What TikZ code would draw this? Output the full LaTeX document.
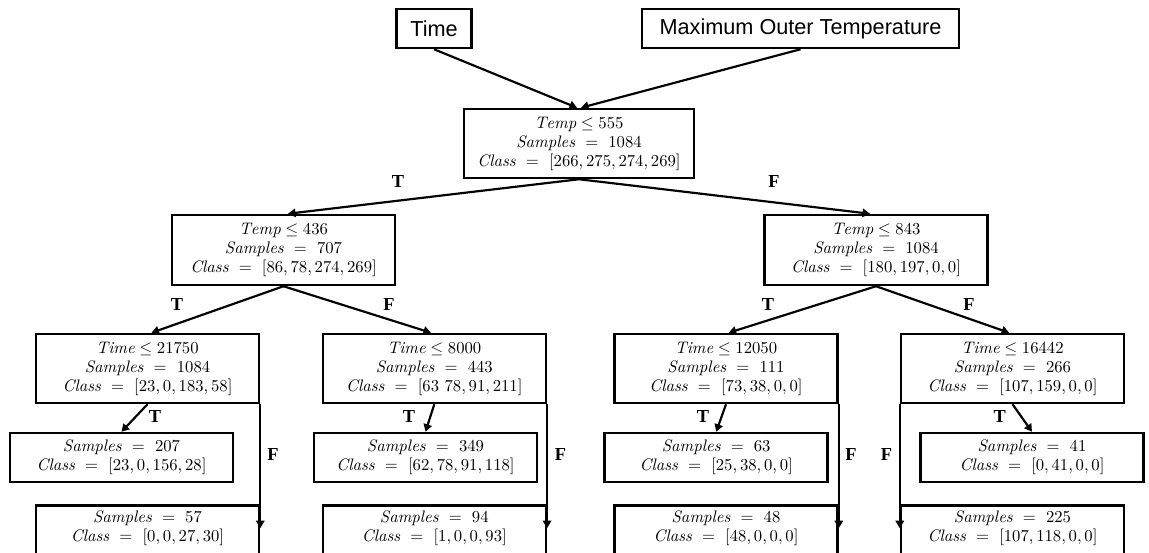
\documentclass[tikz,border=0pt]{standalone}
\usepackage{amsmath,amssymb}
\usepackage{fontspec}
\usepackage{tikz}
\usetikzlibrary{positioning,arrows.meta}
\newfontfamily\arialfont{Liberation Sans}
\newfontfamily\timesfont{Liberation Serif}
\newcommand{\thr}[2]{$\mathit{#1}\leq #2$}
\newcommand{\smp}[1]{$\mathit{Samples}\ =\ #1$}
\newcommand{\cls}[1]{$\mathit{Class}\ =\ [#1]$}
\newcommand{\cutdepth}{\rule[-30pt]{0pt}{1pt}}

\begin{document}
\begin{tikzpicture}[x=0.6pt,y=-0.6pt,
   box/.style={draw,line width=1.5pt,minimum width=133.8pt,minimum height=41.4pt,
               align=center,inner sep=0pt,font=\fontsize{10}{11.4}\selectfont},
   leaf/.style={box,minimum height=29.4pt},
   cut/.style={box,minimum height=0pt,anchor=north,inner ysep=3.3pt},
   attr/.style={draw,line width=1.5pt,minimum height=23.4pt,inner sep=0pt,
               font=\arialfont\fontsize{13}{15}\selectfont},
   tf/.style={font=\timesfont\bfseries\fontsize{11}{13}\selectfont,inner sep=0pt},
   line width=1.3pt,>={Triangle[length=4.5pt,width=5pt]},
]
\useasboundingbox (0,0) rectangle (1149,553);
\clip (0,0) rectangle (1149,553);

% ----- inputs
\node[attr,minimum width=45pt] (time) at (434,28.5) {Time};
\node[attr,minimum width=190.2pt] (maxtemp) at (800.5,28.5) {Maximum Outer Temperature};

% ----- root split
\node[box,minimum width=138pt] (root) at (579,143.5)
   {\thr{Temp}{555}\\ \smp{1084}\\ \cls{266,275,274,269}};

% ----- temperature splits
\node[box,minimum height=42pt] (tmpl) at (283.5,250)
   {\thr{Temp}{436}\\ \smp{707}\\ \cls{86,78,274,269}};
\node[box,minimum height=42pt] (tmpr) at (876,250)
   {\thr{Temp}{843}\\ \smp{1084}\\ \cls{180,197,0,0}};

% ----- time splits
\node[box] (tima) at (147.5,368.5)
   {\thr{Time}{21750}\\ \smp{1084}\\ \cls{23,0,183,58}};
\node[box] (timb) at (434.3,368.5)
   {\thr{Time}{8000}\\ \smp{443}\\ \cls{63\ 78,91,211}};
\node[box] (timc) at (726,368.5)
   {\thr{Time}{12050}\\ \smp{111}\\ \cls{73,38,0,0}};
\node[box] (timd) at (1012.5,368.5)
   {\thr{Time}{16442}\\ \smp{266}\\ \cls{107,159,0,0}};

% ----- leaves, T side
\node[leaf] (lfa) at (121.5,457.5) {\smp{207}\\ \cls{23,0,156,28}};
\node[leaf] (lfb) at (425.5,457.5) {\smp{349}\\ \cls{62,78,91,118}};
\node[leaf] (lfc) at (716.2,457.5) {\smp{63}\\ \cls{25,38,0,0}};
\node[leaf] (lfd) at (1032,457.5) {\smp{41}\\ \cls{0,41,0,0}};

% ----- leaves, F side (run off the page)
\node[cut,below=60pt of tima] (lfa2) {\smp{57}\\ \cls{0,0,27,30}\cutdepth};
\node[cut,below=60pt of timb] (lfb2) {\smp{94}\\ \cls{1,0,0,93}\cutdepth};
\node[cut,below=60pt of timc] (lfc2) {\smp{48}\\ \cls{48,0,0,0}\cutdepth};
\node[cut,below=60pt of timd] (lfd2) {\smp{225}\\ \cls{107,118,0,0}\cutdepth};

% wires
\draw[->] (time.south) -- ([xshift=-1.2pt]root.north);
\draw[->] (maxtemp.south) -- ([xshift=1.2pt]root.north);
\draw[->] (root.south) -- ([xshift=2.7pt]tmpl.north);
\draw[->] (root.south) -- ([xshift=-3.6pt]tmpr.north);
\draw[->] (tmpl.south) -- ([xshift=2.4pt]tima.north);
\draw[->] (tmpl.south) -- ([xshift=-2pt]timb.north);
\draw[->] (tmpr.south) -- ([xshift=1.6pt]timc.north);
\draw[->] (tmpr.south) -- ([xshift=-2pt]timd.north);
\draw[->] (tima.south) -- (lfa.north);
\draw[->] (timb.south) -- (lfb.north);
\draw[->] (timc.south) -- (lfc.north);
\draw[->] (timd.south) -- (lfd.north);
\draw[->] (tima.south east) -- ([yshift=-14.4pt]lfa2.north east);
\draw[->] (timb.south east) -- ([yshift=-14.4pt]lfb2.north east);
\draw[->] (timc.south east) -- ([yshift=-14.4pt]lfc2.north east);
\draw[->] (timd.south west) -- ([yshift=-14.4pt]lfd2.north west);

% ----- branch labels
\node[tf] (t0) at (398,182) {T};
\node[tf] (f0) at (774,182) {F};
\node[tf] (t1) at (177,304) {T};
\node[tf] (f1) at (389,304) {F};
\node[tf] (t2) at (768,305) {T};
\node[tf] (f2) at (969,305) {F};
\node[tf] (t3) at (155,416) {T};
\node[tf] (t4) at (409,416) {T};
\node[tf] (t5) at (703,416) {T};
\node[tf] (t6) at (999.6,416) {T};
\node[tf] (f3) at (273,454) {F};
\node[tf] (f4) at (560.5,454) {F};
\node[tf] (f5) at (851,454) {F};
\node[tf] (f6) at (886.5,454) {F};
\end{tikzpicture}
\end{document}
